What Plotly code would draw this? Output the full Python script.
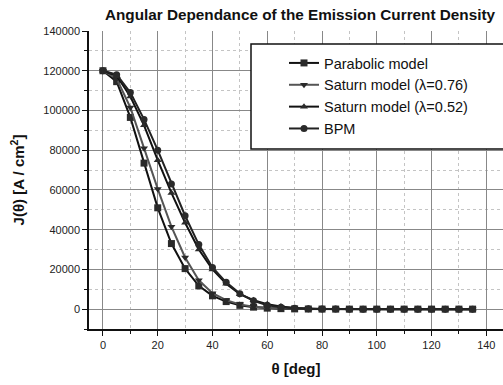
import plotly.graph_objects as go

theta = list(range(0, 140, 5))

parabolic = [120000, 114500, 96500, 73500, 51000, 33000, 20400, 11700, 6700, 3800,
             1900, 1000, 500, 250, 120, 60, 30, 10, 0, 0, 0, 0, 0, 0, 0, 0, 0, 0]
saturn_076 = [120000, 116000, 101500, 81000, 60500, 41500, 26000, 14500, 8000, 4500,
              2400, 1200, 600, 300, 150, 70, 30, 10, 0, 0, 0, 0, 0, 0, 0, 0, 0, 0]
saturn_052 = [120000, 117500, 107000, 92500, 75000, 58500, 43500, 30000, 20000, 12800,
              7500, 4500, 2500, 1300, 600, 250, 100, 40, 10, 0, 0, 0, 0, 0, 0, 0, 0, 0]
bpm = [120000, 118000, 109000, 95500, 80000, 63000, 47000, 32500, 21000, 13500,
       7800, 4200, 2000, 900, 400, 150, 60, 20, 0, 0, 0, 0, 0, 0, 0, 0, 0, 0]

names = ["Parabolic model", "Saturn model (\u03bb=0.76)", "Saturn model (\u03bb=0.52)", "BPM"]
series = [parabolic, saturn_076, saturn_052, bpm]
symbols = ["square", "triangle-down", "triangle-up", "circle"]
line_colors = ["#111111", "#555555", "#111111", "#222222"]

xticks = [0, 20, 40, 60, 80, 100, 120, 140]
yticks = [0, 20000, 40000, 60000, 80000, 100000, 120000, 140000]

FONT = "Liberation Sans, Arial, Helvetica, sans-serif"

fig = go.Figure()
for name, ys, sym, lc in zip(names, series, symbols, line_colors):
    fig.add_trace(go.Scatter(
        x=theta, y=ys, name=name, mode="lines+markers",
        line=dict(color=lc, width=2),
        marker=dict(symbol=sym, size=7, color="#2a2a2a", line=dict(width=0)),
        cliponaxis=False,
    ))

fig.update_layout(
    width=503, height=385,
    margin=dict(l=89, r=0, t=31, b=56),
    paper_bgcolor="white", plot_bgcolor="white",
    font=dict(family=FONT, color="#111111"),
    title=dict(text="<b>Angular Dependance of the Emission Current Density</b>",
               font=dict(size=15.3, color="#111111"),
               x=300 / 503, xref="container", xanchor="center",
               y=1 - 15 / 385, yref="container", yanchor="middle"),
    showlegend=True,
    legend=dict(x=(284 - 89) / 414, y=(329 - 47) / 298, xanchor="left", yanchor="top",
                bgcolor="rgba(0,0,0,0)", borderwidth=0,
                font=dict(size=14.5, color="#111111"),
                tracegroupgap=0),
    shapes=[dict(type="rect", xref="paper", yref="paper",
                 x0=(251 - 89) / 414, x1=1.05,
                 y0=(329 - 149) / 298, y1=(329 - 44) / 298,
                 line=dict(color="#111111", width=1.5), fillcolor="white", layer="above")],
)

fig.update_xaxes(
    range=[-5.1, 146.1], tickvals=xticks, ticktext=[str(v) for v in xticks],
    showline=True, linecolor="#111111", linewidth=1.5,
    ticks="outside", ticklen=5, tickwidth=1, tickcolor="#111111",
    tickfont=dict(size=11, color="#222222"),
    showgrid=True, gridcolor="#888888", gridwidth=1, zeroline=False,
    minor=dict(dtick=10, tick0=0, ticks="outside", ticklen=3, tickcolor="#111111",
               showgrid=True, gridcolor="#c4c4c4", griddash="dot", gridwidth=1),
    title=dict(text="<b>\u03b8 [deg]</b>", font=dict(size=15, color="#111111"), standoff=14),
)
fig.update_yaxes(
    range=[-10000, 140000], tickvals=yticks, ticktext=[str(v) for v in yticks],
    showline=True, linecolor="#111111", linewidth=1.5,
    ticks="outside", ticklen=5, tickwidth=1, tickcolor="#111111",
    tickfont=dict(size=11, color="#222222"),
    showgrid=True, gridcolor="#888888", gridwidth=1, zeroline=False,
    minor=dict(dtick=10000, tick0=0, ticks="outside", ticklen=3, tickcolor="#111111",
               showgrid=True, gridcolor="#c4c4c4", griddash="dot", gridwidth=1),
    title=dict(text="<b>J(\u03b8) [A / cm<sup>2</sup>]</b>", font=dict(size=15, color="#111111"),
               standoff=15),
)

fig.write_html("out.html")
